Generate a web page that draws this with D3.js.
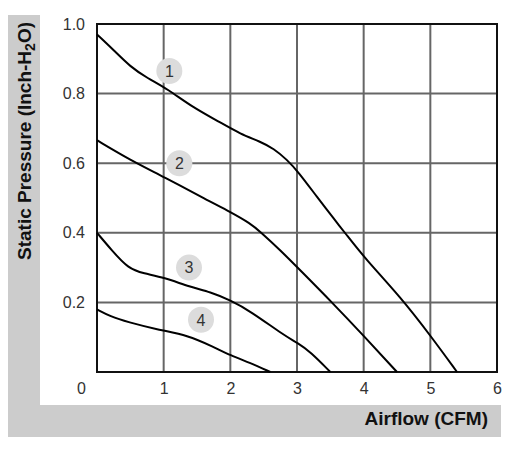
<!DOCTYPE html>
<html>
<head>
<meta charset="utf-8">
<script src="https://cdn.jsdelivr.net/npm/d3@7"></script>
<style>
  body { margin: 0; background: #fff; }
  svg { display: block; font-family: "Liberation Sans", Arial, sans-serif; }
</style>
</head>
<body>
<div id="chart"></div>
<script>
// fan curves, airflow (CFM) vs static pressure (inch-H2O)
var curve1 = [[0, 0.97], [0.25, 0.925], [0.5, 0.877], [0.75, 0.845], [1.07, 0.812], [1.4, 0.765],
  [1.85, 0.717], [2.15, 0.684], [2.45, 0.662], [2.65, 0.642], [2.85, 0.61], [3.02, 0.575],
  [3.3, 0.503], [3.57, 0.436], [3.72, 0.4], [4.02, 0.326], [4.55, 0.216], [5.02, 0.10], [5.4, 0]];
var curve2 = [[0, 0.666], [0.5, 0.609], [1.0, 0.561], [1.65, 0.494], [2.0, 0.46], [2.3, 0.427],
  [2.45, 0.403], [2.75, 0.35], [3.05, 0.292], [3.52, 0.201], [4.02, 0.10], [4.5, 0]];
var curve3 = [[0, 0.4], [0.22, 0.35], [0.47, 0.297], [0.7, 0.283], [1.0, 0.272], [1.4, 0.244],
  [1.7, 0.23], [2.0, 0.206], [2.3, 0.175], [2.8, 0.106], [3.02, 0.082], [3.2, 0.058], [3.5, 0]];
var curve4 = [[0, 0.18], [0.2, 0.16], [0.45, 0.144], [0.95, 0.12], [1.35, 0.106], [1.75, 0.072],
  [2.0, 0.048], [2.3, 0.026], [2.6, 0]];
var curveNames = ['1', '2', '3', '4'];
var labelPos = [[1.085, 0.865], [1.235, 0.6], [1.38, 0.3], [1.56, 0.15]];

var xTicks = [0, 1, 2, 3, 4, 5, 6];
var yTicks = [0.2, 0.4, 0.6, 0.8, 1.0];

var width = 511, height = 455,
    marginLeft = 97, marginTop = 24,
    plotW = 400, plotH = 348;

var svg = d3.select('#chart').append('svg')
  .attr('width', width)
  .attr('height', height);

// grey L-shaped frame behind the chart
svg.append('rect').attr('x', 8).attr('y', 15).attr('width', 493).attr('height', 422).attr('fill', '#cccccc');
svg.append('rect').attr('x', 40).attr('y', 0).attr('width', 471).attr('height', 405).attr('fill', '#fff');

var x = d3.scaleLinear().domain([0, 6]).range([0, plotW]);
var y = d3.scaleLinear().domain([0, 1]).range([plotH, 0]);

var g = svg.append('g')
  .attr('transform', 'translate(' + marginLeft + ',' + marginTop + ')');

// grid
g.selectAll('.vgrid').data(xTicks.slice(1, -1)).enter()
  .append('line')
  .attr('x1', function (d) { return x(d); })
  .attr('x2', function (d) { return x(d); })
  .attr('y1', 0).attr('y2', plotH)
  .attr('stroke', '#666').attr('stroke-width', 2);

g.selectAll('.hgrid').data(yTicks.slice(0, -1)).enter()
  .append('line')
  .attr('y1', function (d) { return y(d); })
  .attr('y2', function (d) { return y(d); })
  .attr('x1', 0).attr('x2', plotW)
  .attr('stroke', '#666').attr('stroke-width', 2);

g.append('rect')
  .attr('width', plotW).attr('height', plotH)
  .attr('fill', 'none').attr('stroke', '#111').attr('stroke-width', 2);

// axes, only the labels are shown
var xAxis = g.append('g')
  .attr('transform', 'translate(0,' + plotH + ')')
  .call(d3.axisBottom(x).tickValues(xTicks).tickSize(0).tickPadding(11).tickFormat(d3.format('d')));
var yAxis = g.append('g')
  .call(d3.axisLeft(y).tickValues(yTicks).tickSize(0).tickPadding(12).tickFormat(d3.format('.1f')));

[xAxis, yAxis].forEach(function (a) {
  a.select('.domain').remove();
  a.selectAll('text')
    .attr('fill', '#333')
    .style('font-size', '16px')
    .style('font-family', '"Liberation Sans", Arial, sans-serif');
});
xAxis.selectAll('text').filter(function (d) { return d === 0; }).attr('dx', -16);

// curves
var line = d3.line()
  .x(function (d) { return x(d[0]); })
  .y(function (d) { return y(d[1]); })
  .curve(d3.curveBasis);

g.selectAll('.fan').data([curve1, curve2, curve3, curve4]).enter()
  .append('path')
  .attr('d', line)
  .attr('fill', 'none')
  .attr('stroke', '#000')
  .attr('stroke-width', 2);

// numbered markers
var marks = g.selectAll('.mark').data(labelPos).enter()
  .append('g')
  .attr('transform', function (d) { return 'translate(' + x(d[0]) + ',' + y(d[1]) + ')'; });

marks.append('circle').attr('r', 13).attr('fill', '#dcdcdc');
marks.append('text')
  .attr('text-anchor', 'middle')
  .attr('dy', '0.36em')
  .attr('fill', '#333')
  .style('font-size', '16px')
  .text(function (d, i) { return curveNames[i]; });

// axis titles
var yTitle = svg.append('text')
  .attr('transform', 'translate(31,22) rotate(-90)')
  .attr('text-anchor', 'end')
  .attr('font-weight', 'bold')
  .style('font-size', '19px')
  .attr('fill', '#111');
yTitle.append('tspan').text('Static Pressure (Inch-H');
yTitle.append('tspan').attr('dy', 4).style('font-size', '14px').text('2');
yTitle.append('tspan').attr('dy', -4).text('O)');

svg.append('text')
  .attr('x', 488).attr('y', 425)
  .attr('text-anchor', 'end')
  .attr('font-weight', 'bold')
  .style('font-size', '19px')
  .attr('fill', '#111')
  .text('Airflow (CFM)');
</script>
</body>
</html>
